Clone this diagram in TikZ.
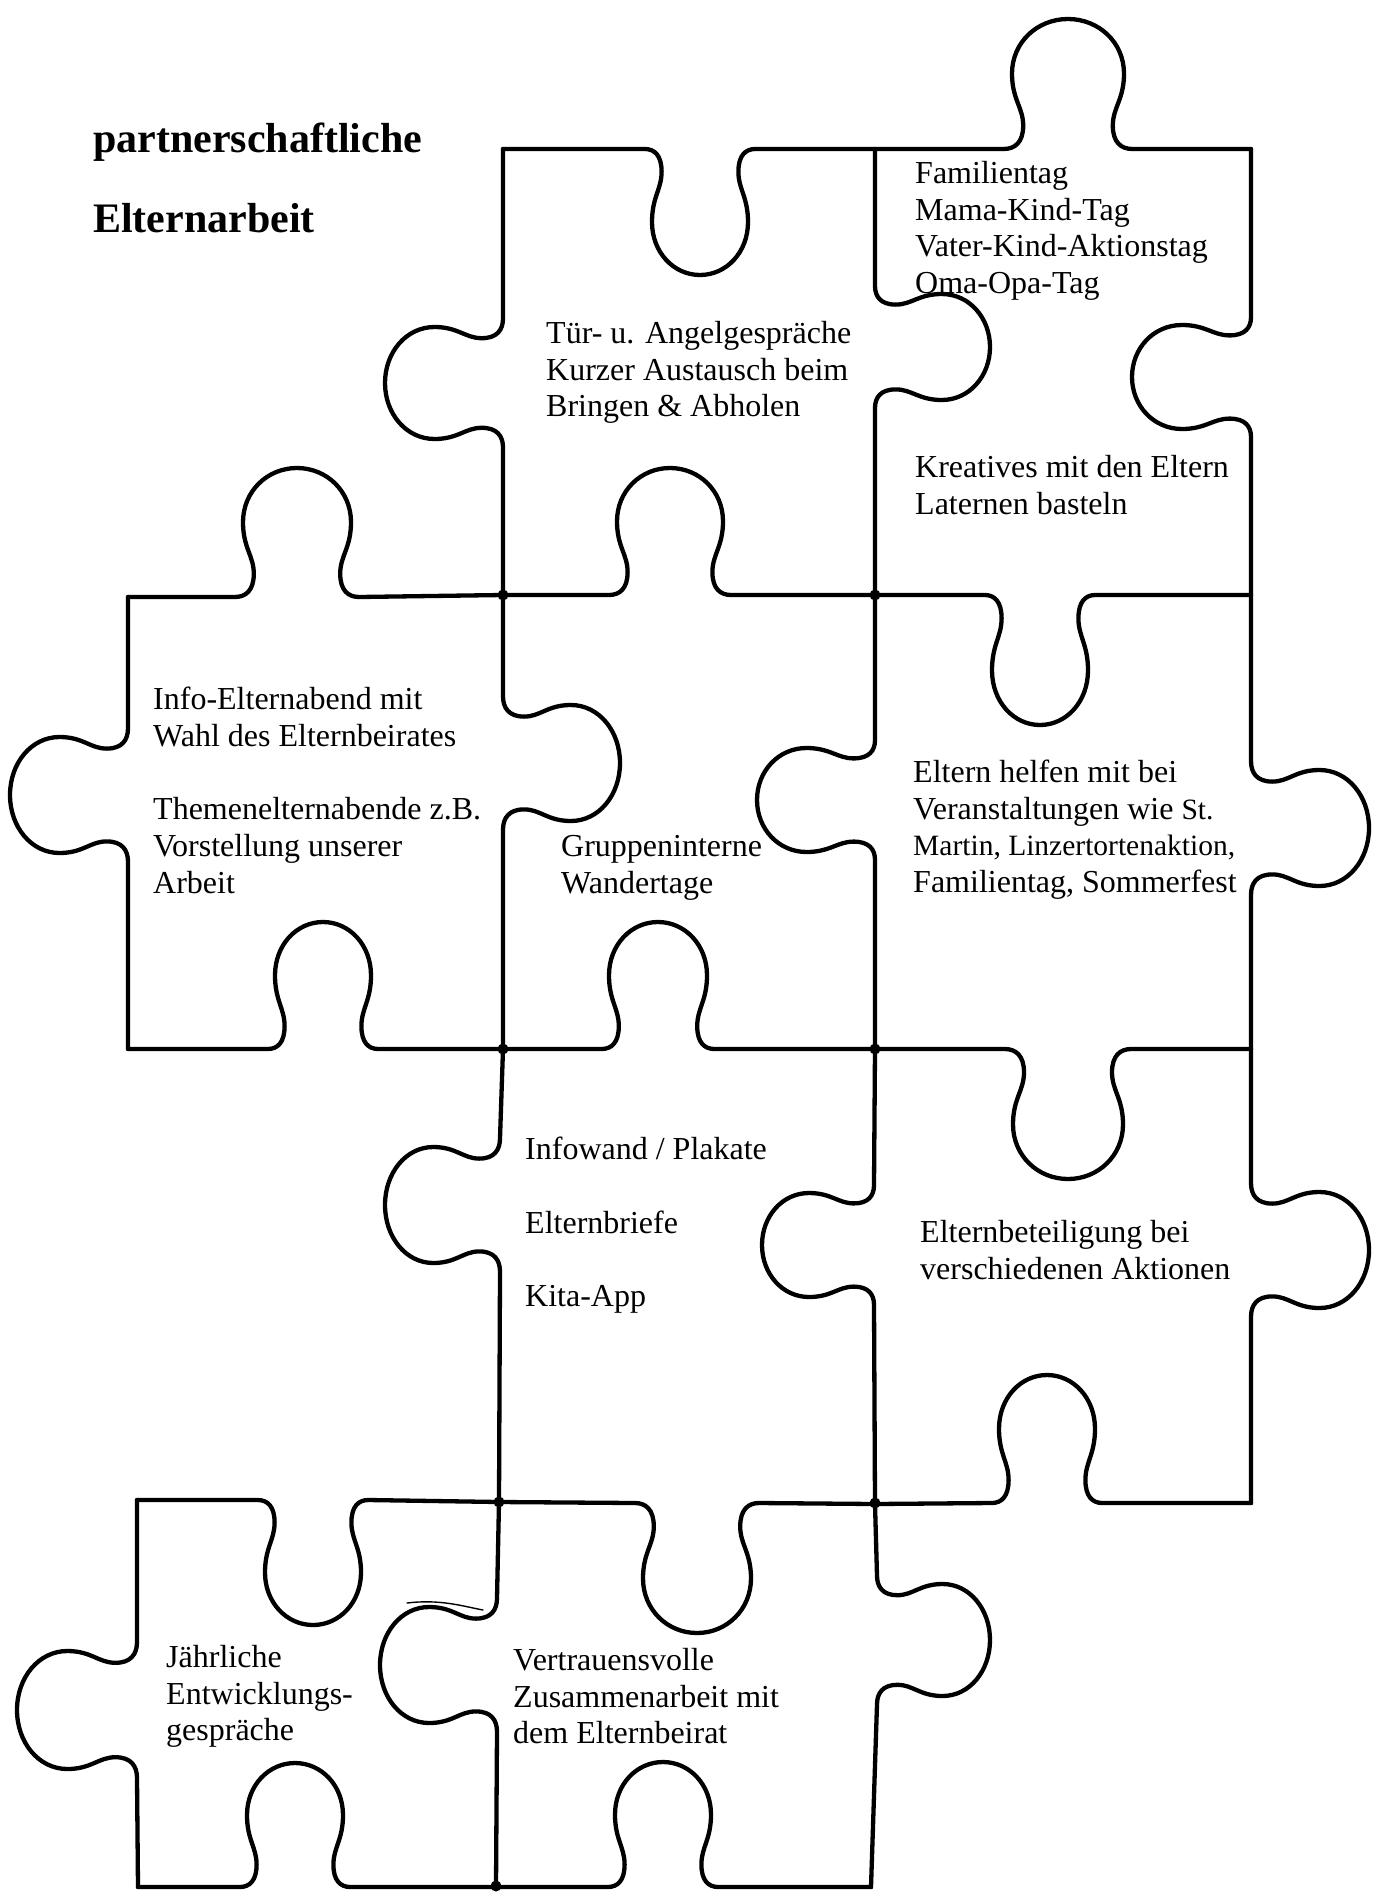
\documentclass[tikz,border=0pt]{standalone}
\usepackage{fontspec}
\setmainfont{Liberation Serif}

% Jigsaw knob on a horizontal edge, drawn left to right.
% #1 centre x, #2 edge y, #3 bulb half-width, #4 signed depth (+ = downwards)
\newcommand\pzh[4]{%
  -- ({#1-1.15*#3},#2)
  .. controls ({#1-0.95*#3},#2) and ({#1-0.8*#3},{#2+0.05*(#4)}) .. ({#1-0.8*#3},{#2+0.18*(#4)})
  .. controls ({#1-0.8*#3},{#2+0.32*(#4)}) and ({#1-#3},{#2+0.38*(#4)}) .. ({#1-#3},{#2+0.58*(#4)})
  .. controls ({#1-#3},{#2+0.82*(#4)}) and ({#1-0.55*#3},{#2+#4}) .. ({#1},{#2+#4})
  .. controls ({#1+0.55*#3},{#2+#4}) and ({#1+#3},{#2+0.82*(#4)}) .. ({#1+#3},{#2+0.58*(#4)})
  .. controls ({#1+#3},{#2+0.38*(#4)}) and ({#1+0.8*#3},{#2+0.32*(#4)}) .. ({#1+0.8*#3},{#2+0.18*(#4)})
  .. controls ({#1+0.8*#3},{#2+0.05*(#4)}) and ({#1+0.95*#3},#2) .. ({#1+1.15*#3},#2)}

% Jigsaw knob on a vertical edge, drawn top to bottom.
% #1 centre y, #2 edge x, #3 bulb half-width, #4 signed depth (+ = to the right)
\newcommand\pzv[4]{%
  -- (#2,{#1-1.15*#3})
  .. controls (#2,{#1-0.95*#3}) and ({#2+0.05*(#4)},{#1-0.8*#3}) .. ({#2+0.18*(#4)},{#1-0.8*#3})
  .. controls ({#2+0.32*(#4)},{#1-0.8*#3}) and ({#2+0.38*(#4)},{#1-#3}) .. ({#2+0.58*(#4)},{#1-#3})
  .. controls ({#2+0.82*(#4)},{#1-#3}) and ({#2+#4},{#1-0.55*#3}) .. ({#2+#4},{#1})
  .. controls ({#2+#4},{#1+0.55*#3}) and ({#2+0.82*(#4)},{#1+#3}) .. ({#2+0.58*(#4)},{#1+#3})
  .. controls ({#2+0.38*(#4)},{#1+#3}) and ({#2+0.32*(#4)},{#1+0.8*#3}) .. ({#2+0.18*(#4)},{#1+0.8*#3})
  .. controls ({#2+0.05*(#4)},{#1+0.8*#3}) and (#2,{#1+0.95*#3}) .. (#2,{#1+1.15*#3})}

\newcommand\firstline{\rule{0pt}{30pt}}

\begin{document}
\begin{tikzpicture}[x=1pt, y=-1pt,
  edge/.style={line width=4.3pt, line cap=round, line join=round},
  joint/.style={fill=black, draw=none},
  txt/.style={anchor=north west, inner sep=0pt, align=left,
              font=\fontsize{32}{36.8}\selectfont},
  heading/.style={anchor=north west, inner sep=0pt, align=left,
              font=\bfseries\fontsize{42}{80}\selectfont}]
\useasboundingbox (0,0) rectangle (1382,1892);

% ---- title ----
\node[heading] (title) at (93,112) {\rule{0pt}{40pt}partnerschaftliche\\Elternarbeit};

% ---- outlines: row 1 ----
\draw[edge] (503,149) \pzh{700}{149}{48}{126} \pzh{1068}{149}{56}{-130} -- (1251,149);
\draw[edge] (503,149) \pzv{383}{503}{56}{-118} -- (503,595);
\draw[edge] (875,149) \pzv{347}{875}{53}{115} -- (875,595);
\draw[edge] (1251,149) \pzv{377}{1251}{52}{-119} -- (1251,595);
\draw[edge] (128,597) \pzh{297}{597}{54}{-129} -- (503,595) \pzh{670}{595}{53}{-127}
  -- (875,595) \pzh{1040}{595}{48}{130} -- (1251,595);

% ---- outlines: row 2 ----
\draw[edge] (128,597) \pzv{795}{128}{58}{-118} -- (128,1049);
\draw[edge] (503,595) \pzv{763}{503}{58}{117} -- (503,1049);
\draw[edge] (875,595) \pzv{800}{875}{52}{-118} -- (875,1049);
\draw[edge] (1251,595) \pzv{828}{1251}{58}{118} -- (1251,1049);
\draw[edge] (128,1049) \pzh{323}{1049}{48}{-127} -- (503,1049) \pzh{658}{1049}{49}{-127}
  -- (875,1049) \pzh{1068}{1049}{55}{130} -- (1251,1049);

% ---- outlines: row 3 ----
\draw[edge] (503,1049) \pzv{1205}{500}{58}{-115} -- (499,1502);
\draw[edge] (875,1049) \pzv{1245}{874}{52}{-112} -- (875,1503);
\draw[edge] (1251,1049) \pzv{1250}{1251}{58}{118} -- (1251,1503);
\draw[edge] (137,1500) \pzh{313}{1500}{48}{125} -- (499,1502) \pzh{697}{1503}{54}{130}
  -- (875,1504) \pzh{1047}{1503}{48}{-128} -- (1251,1503);

% ---- outlines: row 4 ----
\draw[edge] (137,1500) \pzv{1710}{137}{59}{-120} -- (138,1887);
\draw[edge] (499,1502) \pzv{1665}{497}{58}{-117} -- (496,1887);
\draw[edge] (875,1504) \pzv{1640}{877}{56}{113} -- (871,1887);
\draw[edge] (138,1887) \pzh{295}{1887}{48}{-124} -- (496,1887) \pzh{663}{1887}{48}{-125} -- (871,1887);

% stray pen stroke
\draw[line width=1.4pt, line cap=round] (407,1603) .. controls (440,1599) and (462,1606) .. (483,1610);

% ink blobs where the cuts cross
\foreach \p in {(503,595),(875,595),(503,1049),(875,1049),(875,1503),(499,1502),(496,1886)}
  \fill[joint] \p circle (5.5);

% ---- piece texts ----
\node[txt] (fam) at (915,153) {\firstline Familientag\\Mama-Kind-Tag\\Vater-Kind-Aktionstag\\Oma-Opa-Tag};
\node[txt] (krea) at (915,447) {\firstline Kreatives mit den Eltern\\Laternen basteln};
\node[txt] (tuer) at (546,313) {\firstline T\"ur- u. Angelgespr\"ache\\Kurzer Austausch beim\\Bringen \& Abholen};
\node[txt] (info) at (153,679) {\firstline Info-Elternabend mit\\Wahl des Elternbeirates\\[36.6pt]Themenelternabende z.B.\\Vorstellung unserer\\Arbeit};
\node[txt] (wand) at (561,826) {\firstline Gruppeninterne\\Wandertage};
\node[txt] (helf) at (913,752) {\firstline Eltern helfen mit bei\\Veranstaltungen wie {\fontsize{29.5}{36.8}\selectfont St.}\\{\fontsize{29.5}{36.8}\selectfont Martin, Linzertortenaktion,}\\Familientag, Sommerfest};
\node[txt] (plak) at (525,1129) {\firstline Infowand / Plakate\\[37pt]Elternbriefe\\[37pt]Kita-App};
\node[txt] (akt) at (920,1212) {\firstline Elternbeteiligung bei\\verschiedenen Aktionen};
\node[txt] (entw) at (166,1637) {\firstline J\"ahrliche\\Entwicklungs-\\gespr\"ache};
\node[txt] (beir) at (513,1640) {\firstline Vertrauensvolle\\Zusammenarbeit mit\\dem Elternbeirat};
\end{tikzpicture}
\end{document}
